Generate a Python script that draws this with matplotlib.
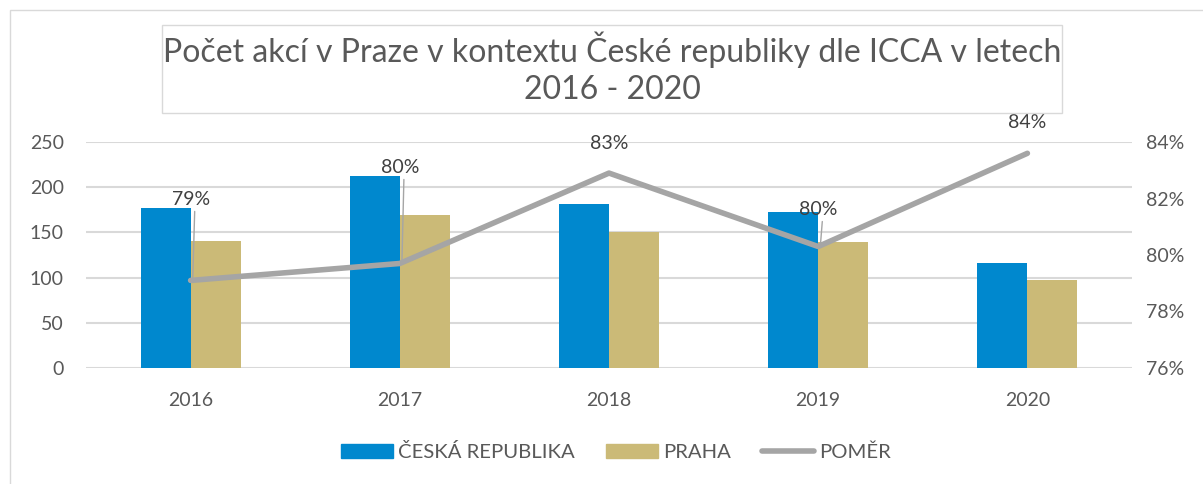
import numpy as np
import matplotlib.pyplot as plt
from matplotlib.patches import Rectangle, Patch
from matplotlib.lines import Line2D
from matplotlib.ticker import PercentFormatter

# data
years = ['2016', '2017', '2018', '2019', '2020']
cr_values = [177, 212, 181, 173, 116]
praha_values = [140, 169, 150, 139, 97]
ratio_values = [0.791, 0.797, 0.829, 0.803, 0.836]
ratio_labels = ['79%', '80%', '83%', '80%', '84%']

BLUE = '#0088CE'
TAN = '#CBBA77'
GREY = '#A5A5A5'
TEXT = '#595959'

plt.rcParams['font.family'] = ['Lato', 'DejaVu Sans']

fig = plt.figure(figsize=(12.03, 4.84), dpi=100)

# outer chart border
fig.patches.append(Rectangle((10 / 1203, -0.1), 1.2, 1 - 10 / 484 + 0.1,
                             transform=fig.transFigure, fill=False,
                             edgecolor='#D9D9D9', lw=1))

ax = fig.add_axes([86 / 1203, 1 - 368 / 484, (1132 - 86) / 1203, (368 - 142) / 484])
ax2 = ax.twinx()

x = np.arange(len(years))
w = 0.239
ax.bar(x - w / 2, cr_values, w, color=BLUE, zorder=2)
ax.bar(x + w / 2, praha_values, w, color=TAN, zorder=2)

ax.set_xlim(-0.5, len(years) - 0.5)
ax.set_ylim(0, 250)
ax.set_yticks(range(0, 251, 50))
ax.grid(axis='y', color='#D9D9D9', lw=1.5, zorder=0)
ax.set_axisbelow(True)
ax.set_xticks(x)
ax.set_xticklabels(years)

ax2.plot(x, ratio_values, color=GREY, lw=4, solid_capstyle='round',
         solid_joinstyle='round', zorder=3)
ax2.set_ylim(0.76, 0.84)
ax2.set_yticks([0.76, 0.78, 0.80, 0.82, 0.84])
ax2.yaxis.set_major_formatter(PercentFormatter(1.0, decimals=0))

for a in (ax, ax2):
    for s in a.spines.values():
        s.set_visible(False)
    a.tick_params(length=0, labelsize=14, labelcolor=TEXT)
ax.tick_params(axis='y', pad=16)
ax.tick_params(axis='x', pad=17)
ax2.tick_params(axis='y', pad=10)

# data labels (offsets in pixels), leader lines on some
offsets = [81, 96, 30, 37, 31]
leaders = [True, True, False, True, False]
for xi, v, lab, dy, ld in zip(x, ratio_values, ratio_labels, offsets, leaders):
    ax2.annotate(lab, (xi, v), xytext=(0, dy), textcoords='offset pixels',
                 ha='center', va='center', fontsize=14, color='#404040', zorder=4)
    if ld:
        ax2.annotate('', (xi + 0.01, v), xytext=(2, dy - 12), textcoords='offset pixels',
                     arrowprops=dict(arrowstyle='-', color=GREY, lw=1,
                                     shrinkA=0, shrinkB=0), zorder=2.5)

# title box
fig.patches.append(Rectangle((162 / 1203, 1 - 113 / 484), 900 / 1203, 88 / 484,
                             transform=fig.transFigure, fill=False,
                             edgecolor='#D9D9D9', lw=1))
fig.text(612 / 1203, 1 - 50 / 484,
         'Počet akcí v Praze v kontextu České republiky dle ICCA v letech',
         ha='center', va='center', fontsize=23, color=TEXT)
fig.text(612 / 1203, 1 - 90 / 484, '2016 - 2020',
         ha='center', va='center', fontsize=23, color=TEXT)

handles = [Patch(color=BLUE), Patch(color=TAN),
           Line2D([0], [0], color=GREY, lw=4, solid_capstyle='round')]
fig.legend(handles, ['ČESKÁ REPUBLIKA', 'PRAHA', 'POMĚR'],
           loc='center', bbox_to_anchor=(616 / 1203, 1 - 452 / 484),
           ncol=3, frameon=False, fontsize=14.6, labelcolor=TEXT,
           handlelength=2.55, handleheight=0.7, handletextpad=0.25,
           columnspacing=1.55)

fig.savefig('out.png', dpi=100)
